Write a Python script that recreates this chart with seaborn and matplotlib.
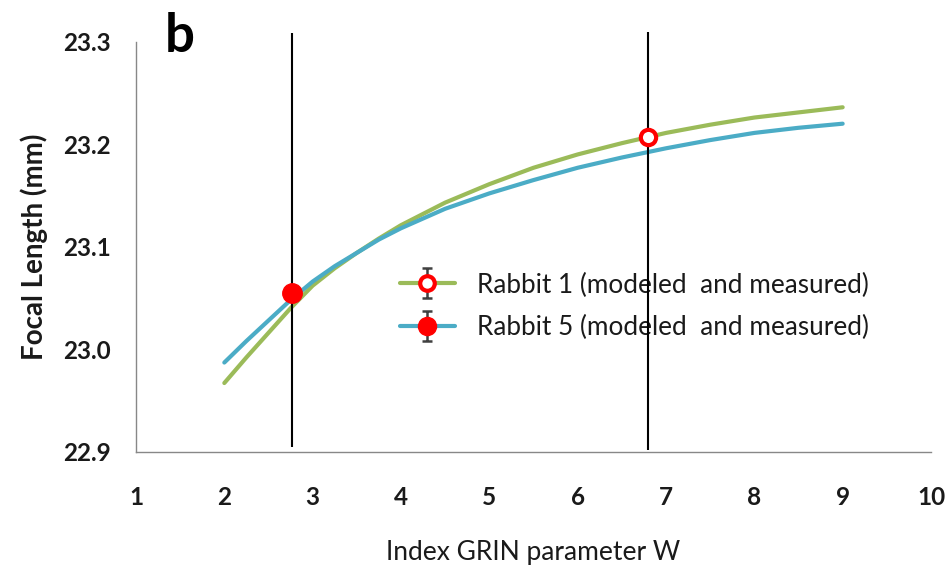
import numpy as np
import pandas as pd
import matplotlib
matplotlib.use("Agg")
import matplotlib.pyplot as plt
import seaborn as sns
from matplotlib.lines import Line2D
from matplotlib.path import Path
from matplotlib.legend_handler import HandlerTuple

# ---- data ----
w_values = [2, 2.25, 2.5, 2.75, 3, 3.25, 3.5, 3.75, 4, 4.5, 5, 5.5, 6, 6.5, 7, 7.5, 8, 8.5, 9]
rabbit1_model = [22.967, 22.992, 23.016, 23.040, 23.062, 23.079, 23.094, 23.108, 23.121,
                 23.143, 23.161, 23.177, 23.190, 23.201, 23.211, 23.219, 23.226, 23.231, 23.236]
rabbit5_model = [22.987, 23.008, 23.028, 23.048, 23.066, 23.081, 23.094, 23.107, 23.118,
                 23.137, 23.152, 23.165, 23.177, 23.187, 23.196, 23.204, 23.211, 23.216, 23.220]
rabbit1_meas_w = [6.80]
rabbit1_meas_f = [23.207]
rabbit5_meas_w = [2.77]
rabbit5_meas_f = [23.055]
vline_w = [2.77, 6.80]
vline_lo = [22.905, 22.902]
vline_hi = [23.308, 23.309]
series_names = ["Rabbit 1 (modeled  and measured)", "Rabbit 5 (modeled  and measured)"]
x_ticks = [1, 2, 3, 4, 5, 6, 7, 8, 9, 10]
y_ticks = [22.9, 23.0, 23.1, 23.2, 23.3]

GREEN = "#9BBB59"
BLUE = "#4BACC6"
RED = "#FF0000"
TXT = "#1a1a1a"

sns.set_theme(style="white")
plt.rcParams["font.family"] = ["Lato", "DejaVu Sans"]

df = pd.DataFrame({
    "W": w_values * 2,
    "F": rabbit1_model + rabbit5_model,
    "series": [series_names[0]] * len(w_values) + [series_names[1]] * len(w_values),
})

fig = plt.figure(figsize=(9.47, 5.71), dpi=100)
ax = fig.add_axes([0.1436, 0.2089, 0.8395, 0.7181])

sns.lineplot(data=df, x="W", y="F", hue="series", palette=[GREEN, BLUE],
             linewidth=3, legend=False, ax=ax, zorder=2)
for ln in ax.lines:
    ln.set_solid_capstyle("round")
    ln.set_solid_joinstyle("round")

ax.vlines(vline_w, vline_lo, vline_hi, colors="black", linewidth=1.5,
          zorder=3, clip_on=False)

ax.plot(rabbit1_meas_w, rabbit1_meas_f, ls="none", marker="o", ms=11,
        mfc="white", mec=RED, mew=3, zorder=4)
ax.plot(rabbit5_meas_w, rabbit5_meas_f, ls="none", marker="o", ms=14,
        mfc=RED, mec=RED, zorder=4)

ax.set_xlim(x_ticks[0], x_ticks[-1])
ax.set_ylim(y_ticks[0], y_ticks[-1])
ax.set_xticks(x_ticks)
ax.set_yticks(y_ticks)
ax.set_yticklabels([f"{v:.1f}" for v in y_ticks])
ax.set_xticklabels([str(v) for v in x_ticks])

for s in ["top", "right"]:
    ax.spines[s].set_visible(False)
for s in ["left", "bottom"]:
    ax.spines[s].set_color("#888888")
    ax.spines[s].set_linewidth(1.0)

ax.tick_params(axis="both", which="major", direction="out", length=7,
               width=1, color="#888888", labelsize=17.5, labelcolor=TXT)
ax.tick_params(axis="y", pad=11)
ax.tick_params(axis="x", pad=18)
for lab in ax.get_xticklabels() + ax.get_yticklabels():
    lab.set_fontweight("bold")

ax.set_xlabel("Index GRIN parameter W", fontsize=19, color=TXT, labelpad=22)
ax.set_ylabel("Focal Length (mm)", fontsize=20, fontweight="bold",
              color=TXT, labelpad=11)

fig.text(180 / 947, 1 - 36 / 571, "b", fontsize=38, fontweight="bold",
         ha="center", va="center", color="black")

# legend with errorbar-like handles
ibar = Path([(0, -1), (0, 1), (-0.3, 1), (0.3, 1), (-0.3, -1), (0.3, -1)],
            [Path.MOVETO, Path.LINETO, Path.MOVETO, Path.LINETO, Path.MOVETO, Path.LINETO])
h1 = (Line2D([], [], color=GREEN, lw=3),
      Line2D([], [], ls="none", marker=ibar, ms=22, mec="#404040", mew=1.8),
      Line2D([], [], ls="none", marker="o", ms=10.5, mfc="white", mec=RED, mew=3))
h2 = (Line2D([], [], color=BLUE, lw=3),
      Line2D([], [], ls="none", marker=ibar, ms=22, mec="#404040", mew=1.8),
      Line2D([], [], ls="none", marker="o", ms=13, mfc=RED, mec=RED))
leg = ax.legend([h1, h2], series_names, handler_map={tuple: HandlerTuple(ndivide=1)},
                loc="upper left", bbox_to_anchor=(0.332, 0.437, 0, 0), frameon=False,
                fontsize=18.8, handlelength=2.1, handletextpad=0.85, labelspacing=0.66,
                borderpad=0, borderaxespad=0)
for t in leg.get_texts():
    t.set_color(TXT)
leg.set_zorder(1)

fig.savefig("out.png", dpi=100)
